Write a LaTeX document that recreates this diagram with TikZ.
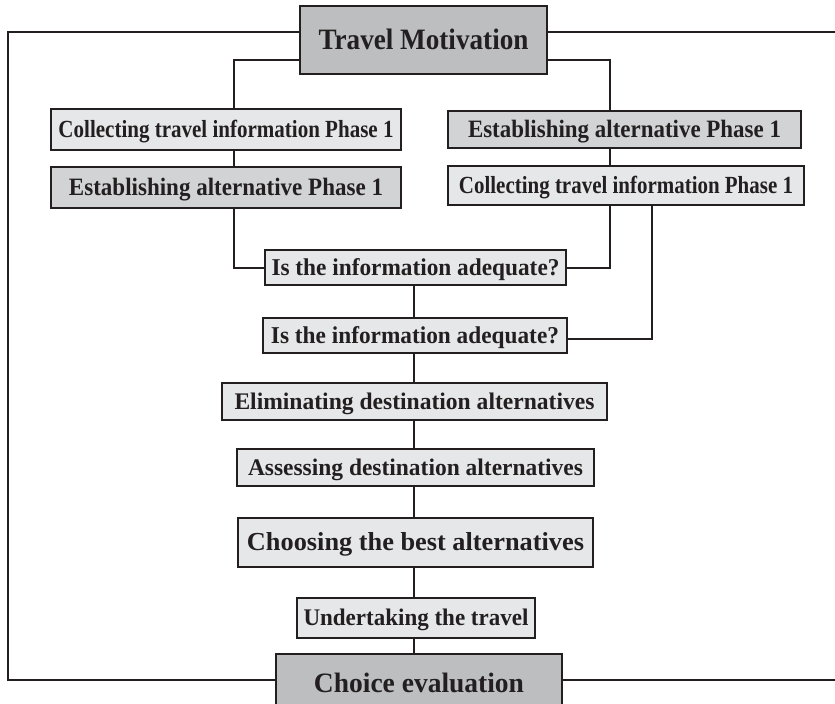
\documentclass[tikz,border=0pt]{standalone}
\usepackage{fontspec}
\setmainfont{Liberation Serif}
\usepackage{graphicx}
\definecolor{ink}{HTML}{231F20}
\definecolor{lightg}{HTML}{E6E7E8}
\definecolor{midg}{HTML}{D1D3D4}
\definecolor{darkg}{HTML}{BCBEC0}
\tikzset{
  box/.style={draw=ink, line width=2.1pt, inner sep=0pt, text depth=0pt, anchor=center, text=ink},
  conn/.style={draw=ink, line width=1.7pt}
}
\newcommand\mkbox[9]{\node[box,fill=#6,minimum width={(#4-#2)*0.75pt},minimum height={(#5-#3)*0.75pt}] (#1) at ({(#2+#4)/2},{(#3+#5)/2}) {\raisebox{1pt}{\resizebox{#7pt}{#8pt}{\bfseries #9}}};}
\begin{document}
\begin{tikzpicture}[x=0.75pt,y=-0.75pt]
\useasboundingbox (0,0) rectangle (835,703);
\fill[white] (0,0) rectangle (835,703);
\mkbox{tm}{300}{6}{547}{74}{darkg}{157.5}{15.4}{Travel Motivation}
\mkbox{colL}{51}{109}{401}{150}{lightg}{251.25}{13}{Collecting travel information Phase 1}
\mkbox{estL}{51}{167}{401}{208}{midg}{235.5}{13}{Establishing alternative Phase 1}
\mkbox{estR}{448}{111}{801}{148}{midg}{234.75}{13}{Establishing alternative Phase 1}
\mkbox{colR}{448}{166}{804}{205}{lightg}{250.5}{13}{Collecting travel information Phase 1}
\mkbox{isA}{265}{250}{566}{285}{lightg}{216}{12.75}{Is the information adequate?}
\mkbox{isB}{263}{318}{567}{353}{lightg}{216}{12.75}{Is the information adequate?}
\mkbox{elim}{222}{383}{607}{420}{lightg}{270}{12.4}{Eliminating destination alternatives}
\mkbox{assess}{237}{449}{594}{486}{lightg}{251.25}{12.4}{Assessing destination alternatives}
\mkbox{choose}{238}{518}{593}{567}{lightg}{252.75}{13.5}{Choosing the best alternatives}
\mkbox{under}{297}{598}{535}{638}{lightg}{168.75}{12.4}{Undertaking the travel}
\mkbox{ce}{276}{654}{562}{712}{darkg}{157.5}{14.6}{Choice evaluation}
% outer loop
\coordinate (tl) at (8,32);
\coordinate (bl) at (8,680);
\coordinate (tr) at (835,32);
\coordinate (br) at (835,680);
\draw[conn] (tm.west|-tl) -- (tl) -- (bl) -- (ce.west|-bl);
\draw[conn] (tm.east|-tr) -- (tr);
\draw[conn] (ce.east|-br) -- (br);
% inner branches
\coordinate (il) at (234,60);
\coordinate (ir) at (610,60);
\draw[conn] (tm.west|-il) -- (il) -- (il|-colL.north);
\draw[conn] (tm.east|-ir) -- (ir) -- (ir|-estR.north);
\draw[conn] (il|-colL.south) -- (il|-estL.north);
\draw[conn] (ir|-estR.south) -- (ir|-colR.north);
\coordinate (a1) at (234,268);
\coordinate (a2) at (610,268);
\coordinate (a3) at (652,339);
\draw[conn] (a1|-estL.south) -- (a1) -- (isA.west|-a1);
\draw[conn] (a2|-colR.south) -- (a2) -- (isA.east|-a2);
\draw[conn] (a3|-colR.south) -- (a3) -- (isB.east|-a3);
% spine
\coordinate (cx) at (414,0);
\draw[conn] (cx|-isA.south) -- (cx|-isB.north);
\draw[conn] (cx|-isB.south) -- (cx|-elim.north);
\draw[conn] (cx|-elim.south) -- (cx|-assess.north);
\draw[conn] (cx|-assess.south) -- (cx|-choose.north);
\draw[conn] (cx|-choose.south) -- (cx|-under.north);
\draw[conn] (cx|-under.south) -- (cx|-ce.north);
\end{tikzpicture}
\end{document}
